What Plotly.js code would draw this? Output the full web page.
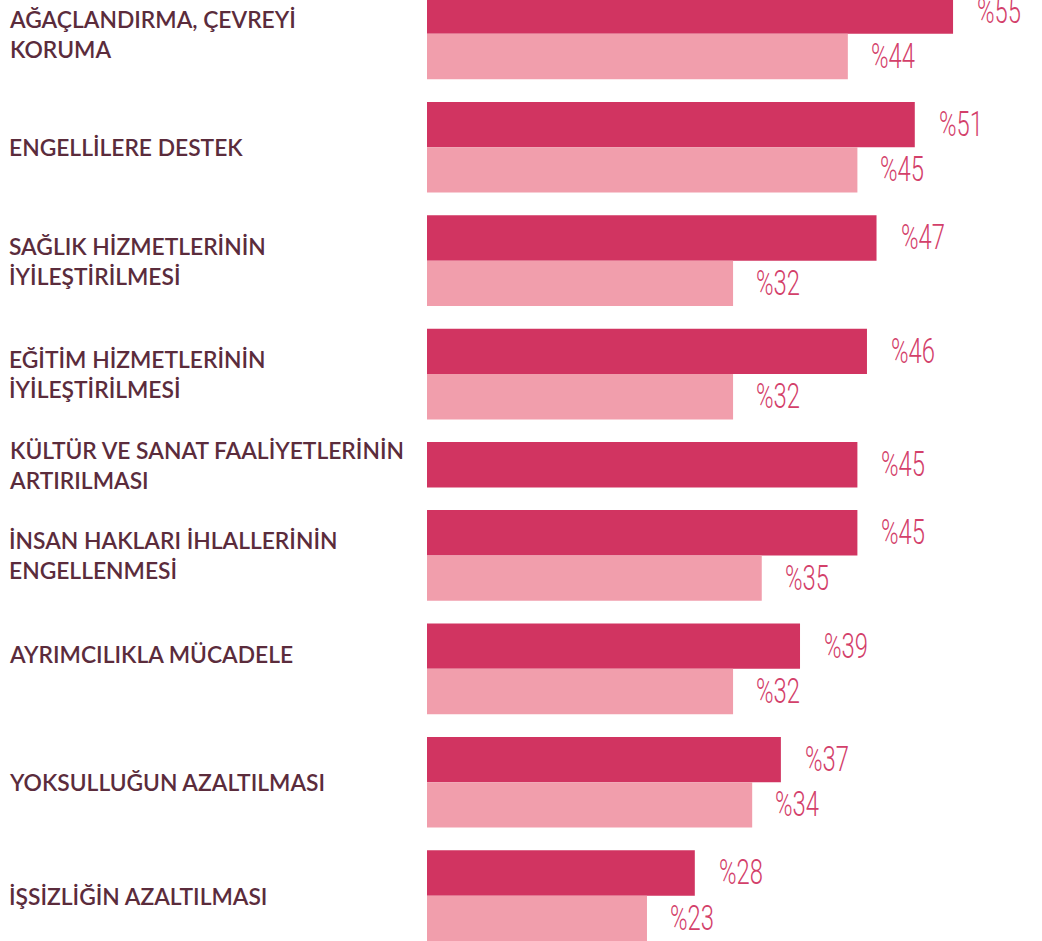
<!DOCTYPE html>
<html>
<head>
<meta charset="utf-8">
<script src="https://cdn.plot.ly/plotly-3.0.1.min.js"></script>
<style>
  html, body { margin: 0; padding: 0; background: #ffffff; }
  #chart { width: 1042px; height: 941px; }
</style>
</head>
<body>
<div id="chart"></div>
<script>
// ---- data ----
const categories = [
  "AĞAÇLANDIRMA, ÇEVREYİ<br>KORUMA",
  "ENGELLİLERE DESTEK",
  "SAĞLIK HİZMETLERİNİN<br>İYİLEŞTİRİLMESİ",
  "EĞİTİM HİZMETLERİNİN<br>İYİLEŞTİRİLMESİ",
  "KÜLTÜR VE SANAT FAALİYETLERİNİN<br>ARTIRILMASI",
  "İNSAN HAKLARI İHLALLERİNİN<br>ENGELLENMESİ",
  "AYRIMCILIKLA MÜCADELE",
  "YOKSULLUĞUN AZALTILMASI",
  "İŞSİZLİĞİN AZALTILMASI"
];
const seriesDark  = [55, 51, 47, 46, 45, 45, 39, 37, 28];
const seriesLight = [44, 45, 32, 32, null, 35, 32, 34, 23];
const valuePrefix = "%";

// ---- layout helpers (slot positions: one unit per bar, half unit gap between groups) ----
const darkPos = [], lightPos = [], groupCenter = [];
let u = 0;
categories.forEach((c, i) => {
  const start = u;
  darkPos.push(u + 0.5); u += 1;
  if (seriesLight[i] !== null) { lightPos.push(u + 0.5); u += 1; } else { lightPos.push(null); }
  groupCenter.push((start + u) / 2);
  u += 0.5;
});
const totalUnits = u - 0.5;

const DARK = "#D13461";
const LIGHT = "#F19EAC";
const TEXTPINK = "#D3406A";
const LABEL = "#5B2C3C";

const lightX = [], lightY = [];
seriesLight.forEach((v, i) => { if (v !== null) { lightX.push(v); lightY.push(lightPos[i]); } });

const traces = [
  { type: "bar", orientation: "h", x: seriesDark, y: darkPos, width: 1,
    marker: { color: DARK, line: { width: 0 } }, hoverinfo: "skip" },
  { type: "bar", orientation: "h", x: lightX, y: lightY, width: 1,
    marker: { color: LIGHT, line: { width: 0 } }, hoverinfo: "skip" }
];

const annotations = [];
const valueFont = { family: "Roboto, DejaVu Sans, sans-serif", size: 35, color: TEXTPINK, weight: 300 };
seriesDark.forEach((v, i) => {
  annotations.push({ x: v, y: darkPos[i], xref: "x", yref: "y", text: valuePrefix + v,
    showarrow: false, xanchor: "left", yanchor: "middle", xshift: 22, font: valueFont });
});
seriesLight.forEach((v, i) => {
  if (v === null) return;
  annotations.push({ x: v, y: lightPos[i], xref: "x", yref: "y", text: valuePrefix + v,
    showarrow: false, xanchor: "left", yanchor: "middle", xshift: 21, font: valueFont });
});
const nValueLabels = annotations.length;
const labelShift = [0, 0, 0, 0, 0, 0, 15, 0, 0];
categories.forEach((c, i) => {
  annotations.push({ x: -420 / 615, y: groupCenter[i], xref: "paper", yref: "y", text: c,
    showarrow: false, xanchor: "left", yanchor: "middle", align: "left", yshift: labelShift[i],
    font: { family: "Lato, Open Sans, sans-serif", size: 22.8, color: LABEL, weight: 600 } });
});

const layout = {
  width: 1042, height: 941,
  margin: { l: 427, r: 0, t: 0, b: 0, pad: 0 },
  paper_bgcolor: "#ffffff", plot_bgcolor: "#ffffff",
  showlegend: false,
  barmode: "overlay",
  xaxis: { range: [0, 64.3], showgrid: false, zeroline: false, showticklabels: false, showline: false, fixedrange: true },
  yaxis: { range: [totalUnits, 0.2535], showgrid: false, zeroline: false, showticklabels: false, showline: false, fixedrange: true },
  annotations: annotations
};

Plotly.newPlot("chart", traces, layout, { displayModeBar: false, staticPlot: true }).then(() => {
  // condensed look for the value labels
  document.querySelectorAll("#chart g.annotation").forEach(g => {
    const idx = parseInt(g.getAttribute("data-index"), 10);
    if (idx < nValueLabels) {
      const t = g.querySelector("text.annotation-text");
      if (t) {
        t.style.transformBox = "fill-box";
        t.style.transformOrigin = "left center";
        t.style.transform = "scaleX(0.68)";
      }
    }
  });
});
</script>
</body>
</html>
